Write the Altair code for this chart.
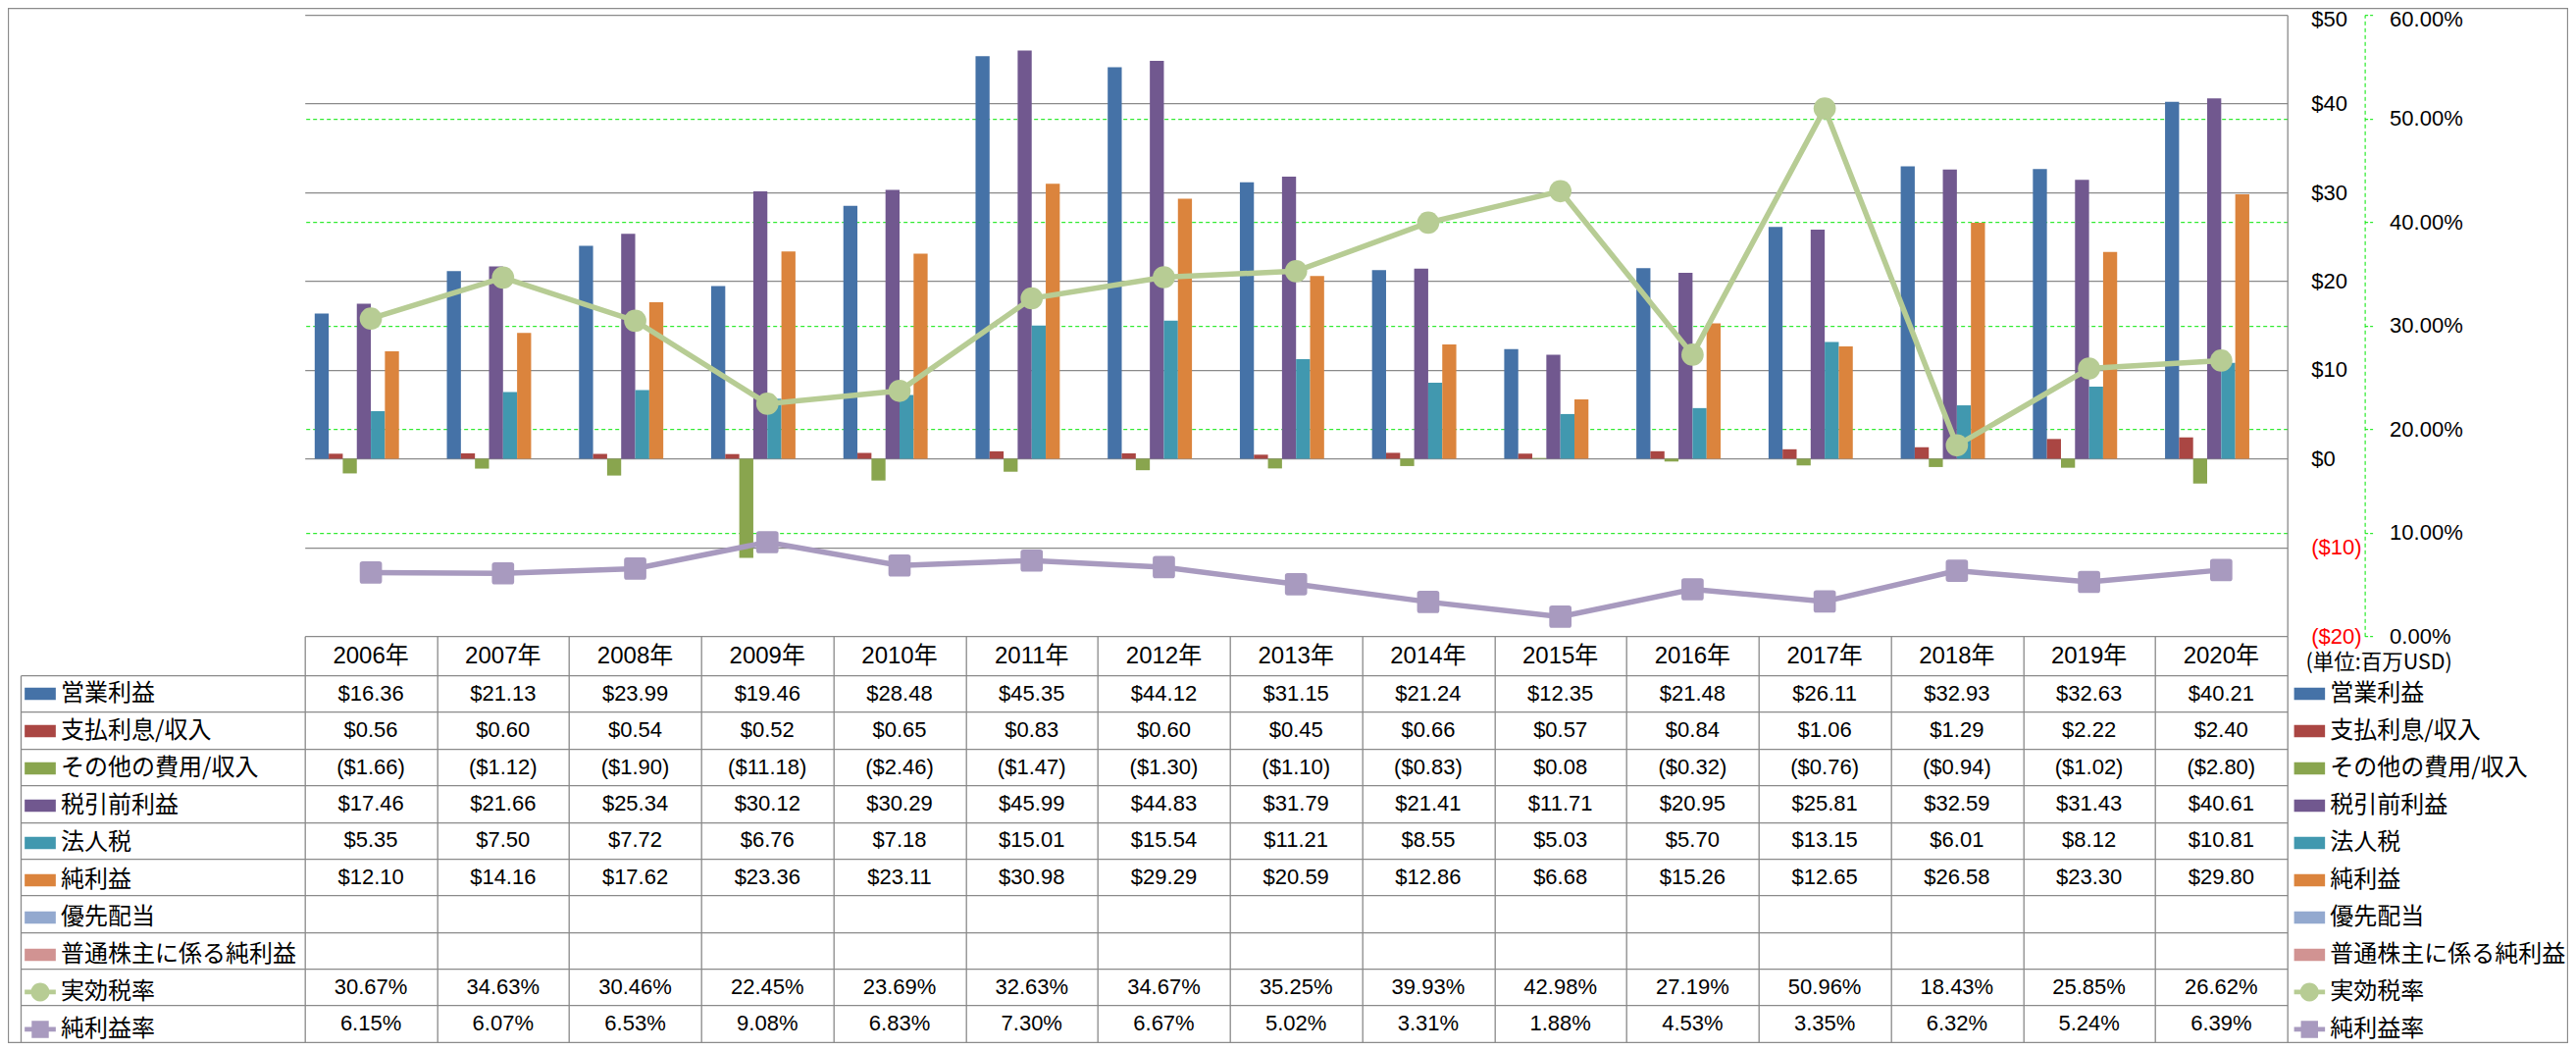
import altair as alt
import pandas as pd

# ---------------- data ----------------
years = ["2006年", "2007年", "2008年", "2009年", "2010年", "2011年", "2012年", "2013年",
         "2014年", "2015年", "2016年", "2017年", "2018年", "2019年", "2020年"]

series = ["営業利益", "支払利息/収入", "その他の費用/収入", "税引前利益", "法人税", "純利益",
          "優先配当", "普通株主に係る純利益", "実効税率", "純利益率"]

op_income = [16.36, 21.13, 23.99, 19.46, 28.48, 45.35, 44.12, 31.15, 21.24, 12.35, 21.48, 26.11, 32.93, 32.63, 40.21]
interest = [0.56, 0.60, 0.54, 0.52, 0.65, 0.83, 0.60, 0.45, 0.66, 0.57, 0.84, 1.06, 1.29, 2.22, 2.40]
other_exp = [-1.66, -1.12, -1.90, -11.18, -2.46, -1.47, -1.30, -1.10, -0.83, 0.08, -0.32, -0.76, -0.94, -1.02, -2.80]
pretax = [17.46, 21.66, 25.34, 30.12, 30.29, 45.99, 44.83, 31.79, 21.41, 11.71, 20.95, 25.81, 32.59, 31.43, 40.61]
income_tax = [5.35, 7.50, 7.72, 6.76, 7.18, 15.01, 15.54, 11.21, 8.55, 5.03, 5.70, 13.15, 6.01, 8.12, 10.81]
net_income = [12.10, 14.16, 17.62, 23.36, 23.11, 30.98, 29.29, 20.59, 12.86, 6.68, 15.26, 12.65, 26.58, 23.30, 29.80]
pref_div = [None] * 15
common_net = [None] * 15
eff_tax_rate = [30.67, 34.63, 30.46, 22.45, 23.69, 32.63, 34.67, 35.25, 39.93, 42.98, 27.19, 50.96, 18.43, 25.85, 26.62]
net_margin = [6.15, 6.07, 6.53, 9.08, 6.83, 7.30, 6.67, 5.02, 3.31, 1.88, 4.53, 3.35, 6.32, 5.24, 6.39]

colors = ["#4572A7", "#AA4643", "#89A54E", "#71588F", "#4198AF", "#DB843D",
          "#93A9CF", "#D19392", "#B7CC94", "#A89ABF"]

money_series = dict(zip(series[:8], [op_income, interest, other_exp, pretax, income_tax,
                                     net_income, pref_div, common_net]))
rate_series = dict(zip(series[8:], [eff_tax_rate, net_margin]))

# ---------------- tables for the library ----------------
def fmt_money(v):
    return f"${v:.2f}" if v >= 0 else f"(${-v:.2f})"

bar_df = pd.DataFrame([{"year": y, "series": s, "value": v}
                       for s, vals in money_series.items()
                       for y, v in zip(years, vals) if v is not None])
rate_df = pd.DataFrame([{"year": y, "series": s, "rate": v}
                        for s, vals in rate_series.items()
                        for y, v in zip(years, vals)])
table_rows = []
for s, vals in money_series.items():
    for y, v in zip(years, vals):
        if v is not None:
            table_rows.append({"year": y, "row": s, "label": fmt_money(v)})
for s, vals in rate_series.items():
    for y, v in zip(years, vals):
        table_rows.append({"year": y, "row": s, "label": f"{v:.2f}%"})
table_df = pd.DataFrame(table_rows)
key_df = pd.DataFrame({"series": series, "row": series})

# ---------------- styling / layout ----------------
NUM_FONT = "Liberation Sans, Noto Sans CJK JP"
CJK_FONT = "Noto Sans CJK JP"
GRAY = "#8A8A8A"
LIME = "#00E600"

PLOT_W = 2021
PLOT_H = 633.1
TABLE_TOP = 673.1
TABLE_BOTTOM = 1046.8
ROW_H = (TABLE_BOTTOM - TABLE_TOP) / 10

RECT = "M-1,-0.4H1V0.4H-1Z"
CIRCLE_KEY = "M-1,-0.15H1V0.15H-1Z M0.6,0A0.6,0.6 0 1,1 -0.6,0A0.6,0.6 0 1,1 0.6,0Z"
SQUARE_KEY = "M-1,-0.15H1V0.15H-1Z M-0.55,-0.55H0.55V0.55H-0.55Z"
ROUND_SQ = "M-0.75,-1H0.75Q1,-1 1,-0.75V0.75Q1,1 0.75,1H-0.75Q-1,1 -1,0.75V-0.75Q-1,-1 -0.75,-1Z"
key_shapes = [RECT] * 8 + [CIRCLE_KEY, SQUARE_KEY]

year_band_bars = alt.Scale(domain=years, paddingInner=0.15, paddingOuter=0.075)
row_scale = alt.Scale(domain=series, range=[TABLE_TOP, TABLE_BOTTOM], paddingInner=0, paddingOuter=0)

# bars + dollar axis
bars = alt.Chart(bar_df).mark_bar().encode(
    x=alt.X("year:N", scale=year_band_bars,
            axis=alt.Axis(orient="bottom", title=None, ticks=False, domain=False, grid=False,
                          labelAngle=0, labelFont=NUM_FONT, labelFontSize=24, labelColor="black",
                          labelBaseline="middle", labelPadding=20, labelOverlap=False)),
    xOffset=alt.XOffset("series:N", scale=alt.Scale(domain=series[:8], paddingInner=0, paddingOuter=0)),
    y=alt.Y("value:Q",
            scale=alt.Scale(domain=[-20, 50], nice=False, zero=False),
            axis=alt.Axis(orient="right", values=[-20, -10, 0, 10, 20, 30, 40, 50],
                          labelExpr="datum.value < 0 ? '($' + (-datum.value) + ')' : '$' + datum.value",
                          labelColor={"condition": {"test": "datum.value < 0", "value": "#FF0000"},
                                      "value": "#000000"},
                          labelOffset={"condition": {"test": "datum.value == 50", "value": 4.5},
                                       "value": 0},
                          labelFont=NUM_FONT, labelFontSize=22, labelPadding=24, labelFlush=False,
                          labelAlign="left", labelBaseline="middle",
                          ticks=False, domain=True, domainColor=GRAY, domainWidth=1.3,
                          grid=True, gridColor=GRAY, gridWidth=1.3,
                          title="(単位:百万USD)", titleAngle=0, titleX=18.3, titleY=660.5,
                          titleAlign="left", titleBaseline="middle", titleFont=CJK_FONT,
                          titleFontSize=21.5, titleFontWeight="normal", titleColor="black")),
    color=alt.Color("series:N", scale=alt.Scale(domain=series, range=colors), legend=None),
)

# rate lines + percent axis
rate_y = alt.Y("rate:Q", scale=alt.Scale(domain=[0, 60], nice=False, zero=False),
               axis=alt.Axis(orient="right", offset=78.9, values=[0, 10, 20, 30, 40, 50, 60],
                             labelExpr="format(datum.value, '.2f') + '%'",
                             labelOffset={"condition": {"test": "datum.value == 60", "value": 4.5},
                                          "value": 0},
                             labelFont=NUM_FONT, labelFontSize=22, labelColor="black",
                             labelPadding=17, labelFlush=False, labelAlign="left", labelBaseline="middle",
                             domain=True, domainColor=LIME, domainDash=[4, 3], domainWidth=1,
                             ticks=True, tickColor=LIME, tickDash=[3, 2], tickSize=8, tickWidth=1,
                             grid=True, gridColor=LIME, gridDash=[4, 3], gridWidth=1,
                             gridOpacity={"condition": {"test": "datum.value == 0 || datum.value == 60",
                                                        "value": 0}, "value": 1},
                             title=None))
rate_x = alt.X("year:N", scale=alt.Scale(domain=years, paddingInner=0, paddingOuter=0), axis=None)
rate_color = alt.Color("series:N", scale=alt.Scale(domain=series[8:], range=colors[8:]), legend=None)
lines = alt.Chart(rate_df).mark_line(strokeWidth=5.5).encode(
    x=rate_x, y=rate_y, color=rate_color, detail="series:N")
points = alt.Chart(rate_df).mark_point(filled=True, opacity=1, size=515).encode(
    x=rate_x, y=rate_y, color=rate_color,
    shape=alt.Shape("series:N", scale=alt.Scale(domain=series[8:], range=["circle", ROUND_SQ]), legend=None))
rate_layer = alt.layer(lines, points)

# data table
table = alt.Chart(table_df).mark_text(font=NUM_FONT, fontSize=22, color="black",
                                      align="center", baseline="middle").encode(
    x=alt.X("year:N", scale=alt.Scale(domain=years, paddingInner=0, paddingOuter=0),
            axis=alt.Axis(orient="bottom", title=None, labels=False, ticks=True, tickBand="extent",
                          tickSize=TABLE_BOTTOM - PLOT_H, tickColor=GRAY, tickWidth=1.3,
                          domain=False, grid=False)),
    y=alt.Y("row:N", scale=row_scale,
            axis=alt.Axis(orient="left", title=None, labels=False, ticks=True, tickBand="extent",
                          tickSize=289.7, tickColor=GRAY, tickWidth=1.3, domain=False,
                          grid=True, gridColor=GRAY, gridWidth=1.3)),
    text="label:N",
)

# legend keys (left and right of the table)
def key_legend(x):
    return alt.Legend(orient="none", legendX=x, legendY=TABLE_TOP, title=None, padding=0,
                      clipHeight=ROW_H, rowPadding=0, symbolSize=1005, symbolStrokeWidth=0,
                      symbolOpacity=1, labelFont=CJK_FONT, labelFontSize=24, labelColor="black",
                      labelOffset=5, labelLimit=400)

left_keys = alt.Chart(key_df).transform_filter("false").mark_point(filled=True, opacity=1).encode(
    color=alt.Color("series:N", scale=alt.Scale(domain=series, range=colors), legend=key_legend(-285.7)),
    shape=alt.Shape("series:N", scale=alt.Scale(domain=series, range=key_shapes), legend=key_legend(-285.7)),
    y=alt.Y("row:N", scale=row_scale,
            axis=alt.Axis(orient="left", offset=289.7, title=None, labels=False, ticks=False,
                          grid=False, domain=True, domainColor=GRAY, domainWidth=1.3)),
)
right_keys = alt.Chart(key_df).transform_filter("false").mark_point(filled=True, opacity=1).encode(
    color=alt.Color("series:N", scale=alt.Scale(domain=series, range=colors), legend=key_legend(2027.6)),
    shape=alt.Shape("series:N", scale=alt.Scale(domain=series, range=key_shapes), legend=key_legend(2027.6)),
)

border = alt.Chart(pd.DataFrame({"a": [0]})).mark_rect(fillOpacity=0, stroke=GRAY, strokeWidth=1.3).encode(
    x=alt.value(-302.2), x2=alt.value(2306.8), y=alt.value(-6.7), y2=alt.value(1047.3))

chart = alt.layer(bars, rate_layer, table, left_keys, right_keys, border).resolve_scale(
    x="independent", y="independent", color="independent", shape="independent"
).properties(
    width=PLOT_W, height=PLOT_H,
    padding={"left": 302.7, "top": 7.2, "right": 286.3, "bottom": 414.7},
    autosize=alt.AutoSizeParams(type="none"),
    background="white",
).configure_view(strokeWidth=0)

chart.save("out.html", embed_options={"renderer": "svg", "actions": False})
